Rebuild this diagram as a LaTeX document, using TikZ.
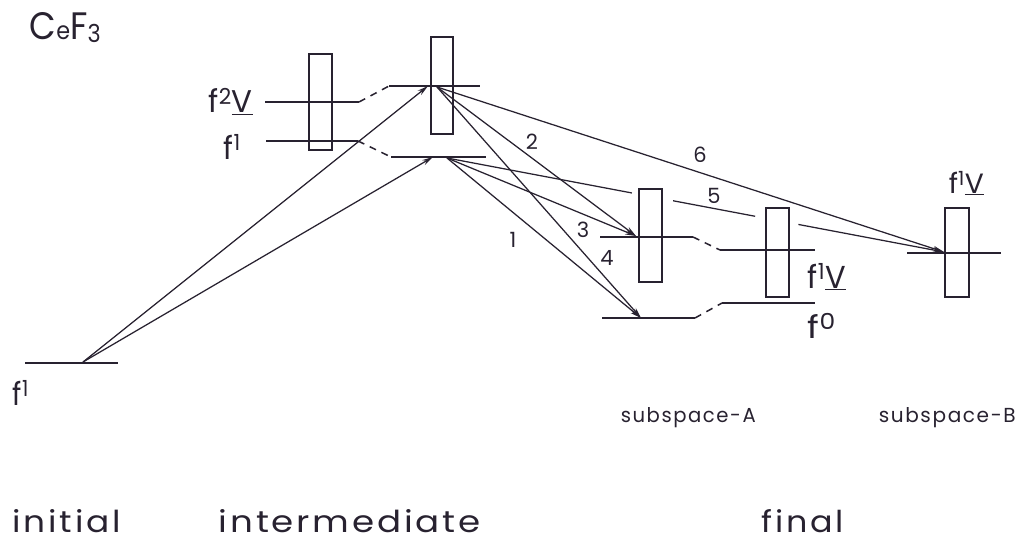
\documentclass[tikz,border=0pt]{standalone}
\usepackage{fontspec}
\setmainfont{Poppins}[LetterSpace=8]
\usetikzlibrary{arrows.meta,calc}
\definecolor{ink}{RGB}{40,34,48}
\newcommand{\fs}[1]{f\textsuperscript{#1}}
\newcommand{\uv}{\underline{V}}
\newcommand{\fit}[3]{\resizebox{#1}{#2}{#3}}
\begin{document}
\begin{tikzpicture}[x=1pt,y=-1pt, line width=1.5pt, draw=ink,
  boxn/.style={draw=ink, line width=1.5pt, inner sep=0pt, minimum width=#1},
  lvl/.style={draw=ink, line width=1.6pt},
  conn/.style={draw=ink, line width=1.5pt, dash pattern=on 7pt off 6pt},
  arr/.style={draw=ink, line width=1.25pt, -{Stealth[length=11pt,width=5.5pt]}},
  seg/.style={draw=ink, line width=1.25pt},
  lab/.style={anchor=base west, inner sep=0pt, text=ink, text depth=0pt},
  flab/.style={lab, font=\fontsize{32}{32}\selectfont},
  big/.style={lab, font=\fontsize{32}{32}\selectfont},
  small/.style={lab, font=\fontsize{22}{22}\selectfont},
  num/.style={inner sep=0pt, text=ink, font=\fontsize{21}{21}\selectfont}]
\useasboundingbox (0,0) rectangle (1018,543);
\fill[white] (0,0) rectangle (1018,543);

% boxes
\node[boxn=23pt, minimum height=96pt] (ib1) at (320.5,102) {};
\node[boxn=22pt, minimum height=97pt] (ib2) at (442,85.5) {};
\node[boxn=23pt, minimum height=93pt] (ab1) at (650.5,235.5) {};
\node[boxn=23pt, minimum height=89pt] (ab2) at (777.5,252.5) {};
\node[boxn=24pt, minimum height=89pt] (bb) at (957,252.5) {};

% level end points
\coordinate (i0a) at (25,363);   \coordinate (i0b) at (118,363);
\coordinate (m1a) at (265,102);  \coordinate (m1b) at (359,102);
\coordinate (m2a) at (266,141);  \coordinate (m2b) at (358,141);
\coordinate (u1a) at (389,86);   \coordinate (u1b) at (480,86);
\coordinate (u2a) at (391,157);  \coordinate (u2b) at (486,157);
\coordinate (a1a) at (600,237);  \coordinate (a1b) at (693,237);
\coordinate (a2a) at (720,250);  \coordinate (a2b) at (815,250);
\coordinate (a3a) at (602,318);  \coordinate (a3b) at (695,318);
\coordinate (a4a) at (722,303);  \coordinate (a4b) at (815,303);
\coordinate (b1a) at (907,253);  \coordinate (b1b) at (1001,253);

% levels
\draw[lvl] (i0a) -- (i0b);
\draw[lvl] (m1a) -- (m1b);
\draw[lvl] (m2a) -- (m2b);
\draw[lvl] (u1a) -- (u1b);
\draw[lvl] (u2a) -- (u2b);
\draw[lvl] (a1a) -- (a1b);
\draw[lvl] (a2a) -- (a2b);
\draw[lvl] (a3a) -- (a3b);
\draw[lvl] (a4a) -- (a4b);
\draw[lvl] (b1a) -- (b1b);

% dashed correlations
\draw[conn] (m1b) -- (u1a);
\draw[conn] (m2b) -- (u2a);
\draw[conn] (a1b) -- (a2a);
\draw[conn] (a3b) -- (a4a);

% transition points
\coordinate (g)  at (83,362);
\coordinate (tu) at (428,86);
\coordinate (tl) at (433,157);
\coordinate (su) at (437,87);
\coordinate (sl) at (447,158);
\coordinate (ta1) at (636,236);
\coordinate (ta3) at (641,318);
\coordinate (tb)  at (944,252);

% absorption
\draw[arr] (g) -- (tu);
\draw[arr] (g) -- (tl);
% emission
\draw[arr] (su) -- (ta1);  % 2
\draw[arr] (su) -- (ta3);  % 4
\draw[arr] (su) -- (tb);   % 6
\draw[arr] (sl) -- (ta1);  % 3
\draw[arr] (sl) -- (ta3);  % 1
% 5, interrupted behind the boxes
\coordinate (p5a) at ($(sl)!0.372!(tb)$);
\coordinate (p5b) at ($(sl)!0.455!(tb)$);
\coordinate (p5c) at ($(sl)!0.620!(tb)$);
\coordinate (p5d) at ($(sl)!0.707!(tb)$);
\draw[seg] (sl) -- (p5a);
\draw[seg] (p5b) -- (p5c);
\draw[arr] (p5d) -- (tb);

% transition numbers
\node[num] (n1) at (513,240) {1};
\node[num] (n2) at (532,142) {2};
\node[num] (n3) at (583,230) {3};
\node[num] (n4) at (607,258) {4};
\node[num] (n5) at (714,196) {5};
\node[num] (n6) at (700,155) {6};

% labels
\node[lab, font=\fontsize{34}{34}\selectfont] (title) at (29,40)
  {\fit{71pt}{27pt}{C{\fontsize{22}{22}\selectfont e}F\raisebox{-2pt}{\fontsize{22}{22}\selectfont 3}}};
\node[flab] (l0) at (12,405) {\fit{16pt}{25pt}{\fs{1}}};
\node[flab] (l1) at (208,113) {\fit{44pt}{25pt}{\fs{2}\uv}};
\node[flab] (l2) at (223,159) {\fit{17pt}{25pt}{\fs{1}}};
\node[flab] (l3) at (807,288) {\fit{38pt}{25pt}{\fs{1}\uv}};
\node[flab] (l4) at (807,338) {\fit{28pt}{25pt}{\fs{0}}};
\node[flab] (l5) at (948,193) {\fit{35pt}{22pt}{\fs{1}\uv}};
\node[small] (sa) at (620,422) {\fit{135pt}{15pt}{subspace-A}};
\node[small] (sb) at (878,422) {\fit{137pt}{15pt}{subspace-B}};
\node[big] (ini) at (12,532) {\fit{108pt}{23pt}{initial}};
\node[big] (int) at (218,532) {\fit{262pt}{23pt}{intermediate}};
\node[big] (fin) at (761,532) {\fit{82pt}{23pt}{final}};
\end{tikzpicture}
\end{document}
